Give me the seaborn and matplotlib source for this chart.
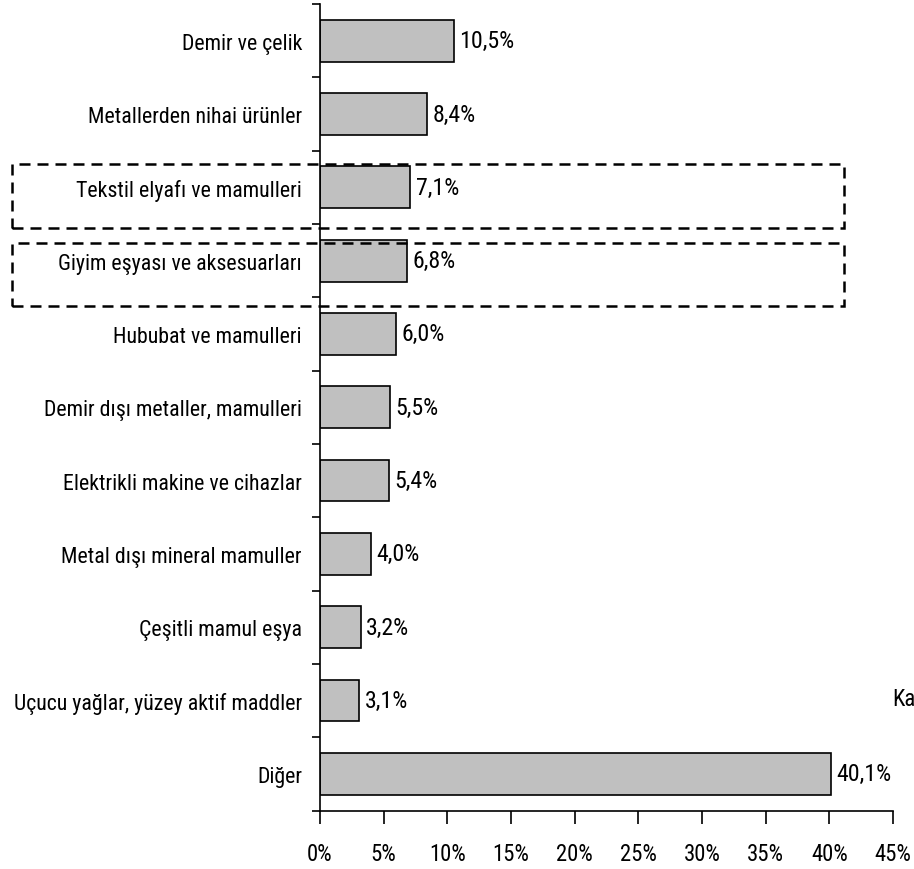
import matplotlib
matplotlib.use("Agg")
import matplotlib.pyplot as plt
import seaborn as sns
import pandas as pd
from matplotlib.patches import Rectangle
from matplotlib.ticker import FuncFormatter, MultipleLocator, FixedLocator

kategoriler = ["Demir ve çelik", "Metallerden nihai ürünler", "Tekstil elyafı ve mamulleri",
               "Giyim eşyası ve aksesuarları", "Hububat ve mamulleri",
               "Demir dışı metaller, mamulleri", "Elektrikli makine ve cihazlar",
               "Metal dışı mineral mamuller", "Çeşitli mamul eşya",
               "Uçucu yağlar, yüzey aktif maddler", "Diğer"]
paylar = [10.5, 8.4, 7.1, 6.8, 6.0, 5.5, 5.4, 4.0, 3.2, 3.1, 40.1]

df = pd.DataFrame({"kategori": kategoriler, "pay": paylar})

sns.set_style("white")
plt.rcParams["font.family"] = ["Liberation Sans Narrow", "Roboto Condensed",
                               "DejaVu Sans Condensed", "Liberation Sans", "DejaVu Sans"]
plt.rcParams["text.color"] = "black"
plt.rcParams["xtick.color"] = "black"
plt.rcParams["ytick.color"] = "black"

W, H = 914, 870
fig = plt.figure(figsize=(W / 100, H / 100), dpi=100)
ax = fig.add_axes([320 / W, 1 - 811.5 / H, 573 / W, 806.5 / H])

sns.barplot(data=df, x="pay", y="kategori", color="#C0C0C0", edgecolor="black",
            linewidth=1.2, width=0.57, saturation=1, ax=ax)

etiketler = ax.bar_label(ax.containers[0], labels=[f"{v:.1f}%".replace(".", ",") for v in paylar],
                         padding=4, fontsize=15)

ax.set_xlim(0, 45)
ax.set_ylim(len(kategoriler) - 0.5, -0.5)
ax.xaxis.set_major_locator(MultipleLocator(5))
ax.xaxis.set_major_formatter(FuncFormatter(lambda x, p: f"{x:.0f}%"))
ax.yaxis.set_minor_locator(FixedLocator([i - 0.5 for i in range(len(kategoriler) + 1)]))
ax.set_xlabel("")
ax.set_ylabel("")
ax.tick_params(axis="x", direction="out", length=9, width=1.2, labelsize=15, pad=14, bottom=True)
ax.tick_params(axis="y", which="major", length=0, labelsize=15, pad=13)
ax.tick_params(axis="y", which="minor", direction="out", length=6, width=1.2, left=True)
for s in ["top", "right"]:
    ax.spines[s].set_visible(False)
for s in ["left", "bottom"]:
    ax.spines[s].set_color("black")
    ax.spines[s].set_linewidth(1.2)

ka = fig.text(892 / W, 1 - 699 / H, "Ka", fontsize=15, ha="left", va="center")

# yazı boyutlarını referanstaki genişliklere göre ayarla
fig.canvas.draw()
r = fig.canvas.get_renderer()


def uydur(metinler, hedef):
    en = max(t.get_window_extent(r).width for t in metinler)
    for t in metinler:
        t.set_fontsize(t.get_fontsize() * hedef / en)


uydur(ax.get_yticklabels(), 289)
uydur(list(etiketler), 55)
uydur(ax.get_xticklabels(), 37)
ka.set_fontsize(ax.get_xticklabels()[0].get_fontsize())

# kesikli çerçeveler
for y0, y1 in [(165, 229), (244, 307)]:
    fig.patches.append(Rectangle((12 / W, 1 - y1 / H), (844 - 12) / W, (y1 - y0) / H,
                                 transform=fig.transFigure, fill=False, edgecolor="black",
                                 linestyle=(0, (4.4, 2.8)), linewidth=1.8))

fig.savefig("out.png", dpi=100, facecolor="white")
